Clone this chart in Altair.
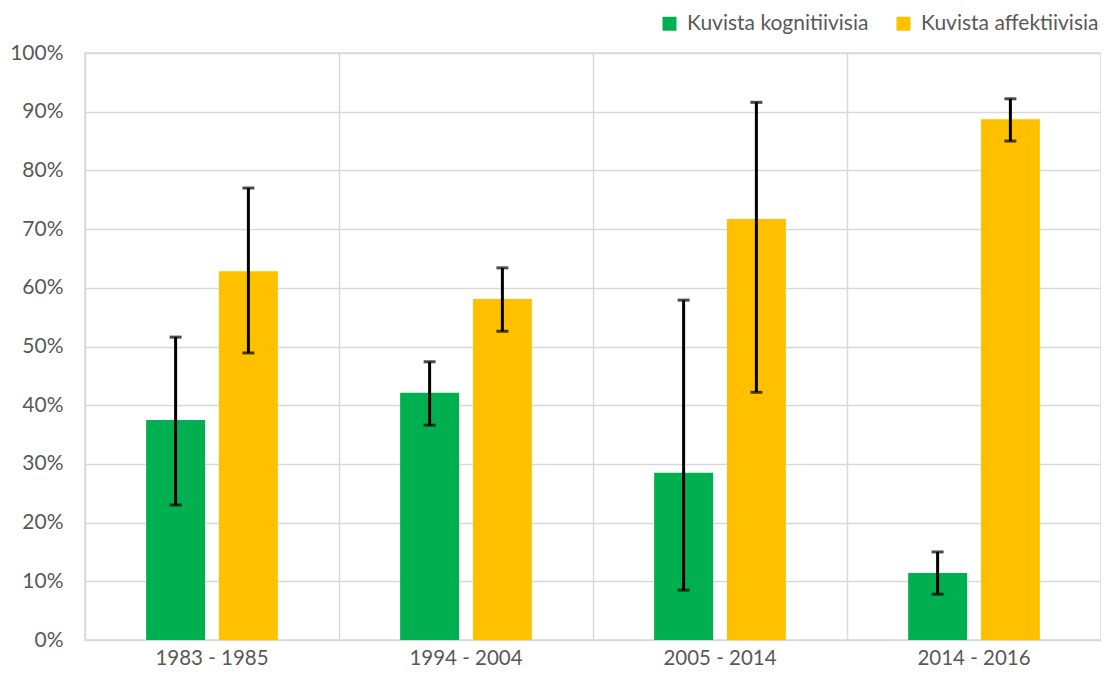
import altair as alt
import pandas as pd

periods = ["1983 - 1985", "1994 - 2004", "2005 - 2014", "2014 - 2016"]
series = ["Kuvista kognitiivisia", "Kuvista affektiivisia"]
colors = ["#00B050", "#FFC000"]

cognitive = [37.5, 42.1, 28.5, 11.4]
cognitive_low = [23.0, 36.6, 8.5, 7.8]
cognitive_high = [51.6, 47.4, 57.9, 15.0]

affective = [62.8, 58.1, 71.7, 88.7]
affective_low = [48.9, 52.6, 42.2, 85.0]
affective_high = [77.0, 63.4, 91.6, 92.2]

rows = []
for i, p in enumerate(periods):
    rows.append({"period": p, "series": series[0], "value": cognitive[i],
                 "low": cognitive_low[i], "high": cognitive_high[i]})
    rows.append({"period": p, "series": series[1], "value": affective[i],
                 "low": affective_low[i], "high": affective_high[i]})
df = pd.DataFrame(rows)

FONT = "Lato"
TXT = "#595959"
GRID = "#d9d9d9"
FS = 21
W = 1016

x_scale = alt.Scale(domain=periods, paddingInner=0, paddingOuter=0)
x_axis = alt.Axis(labelAngle=0, labelFontSize=20.5, labelColor=TXT, labelFont=FONT,
                  labelPadding=8, ticks=False, domain=False, grid=True,
                  gridColor=GRID, gridWidth=1.5, bandPosition=0, labelAlign="center")
x_enc = alt.X("period:N", sort=periods, title=None, scale=x_scale, axis=x_axis)
xo_enc = alt.XOffset("series:N", sort=series,
                     scale=alt.Scale(paddingInner=0.19, paddingOuter=0.84))
y_scale = alt.Scale(domain=[0, 100], nice=False)
y_axis = alt.Axis(values=list(range(0, 101, 10)), labelExpr="datum.value + '%'",
                  labelFontSize=FS, labelColor=TXT, labelFont=FONT, labelPadding=22,
                  ticks=False, domain=False, grid=True, gridColor=GRID, gridWidth=1.5)

bars = alt.Chart(df).mark_bar().encode(
    x=x_enc,
    xOffset=xo_enc,
    y=alt.Y("value:Q", scale=y_scale, title=None, axis=y_axis),
    color=alt.Color("series:N", sort=series,
                    scale=alt.Scale(domain=series, range=colors),
                    legend=alt.Legend(title=None, orient="none", direction="horizontal",
                                      legendX=574, legendY=-40, symbolType="square",
                                      symbolSize=196, symbolStrokeWidth=0, labelFontSize=FS,
                                      labelFont=FONT, labelColor=TXT, labelOffset=7,
                                      labelLimit=400, columnPadding=24))
)

err = alt.Chart(df).mark_rule(color="black", strokeWidth=3).encode(
    x=x_enc, xOffset=xo_enc,
    y=alt.Y("low:Q", scale=y_scale, title=None, axis=y_axis), y2="high:Q"
)
cap_lo = alt.Chart(df).mark_tick(color="black", size=12, thickness=3).encode(
    x=x_enc, xOffset=xo_enc,
    y=alt.Y("low:Q", scale=y_scale, title=None, axis=y_axis)
)
cap_hi = alt.Chart(df).mark_tick(color="black", size=12, thickness=3).encode(
    x=x_enc, xOffset=xo_enc,
    y=alt.Y("high:Q", scale=y_scale, title=None, axis=y_axis)
)

chart = alt.layer(bars, err, cap_lo, cap_hi).properties(
    width=W, height=587,
    autosize=alt.AutoSizeParams(type="none"),
    padding={"left": 77, "top": 45, "right": 0, "bottom": 32},
    background="white",
).configure_view(stroke=GRID, strokeWidth=1.5)

chart.save("out.html", embed_options={"renderer": "svg", "actions": False})
